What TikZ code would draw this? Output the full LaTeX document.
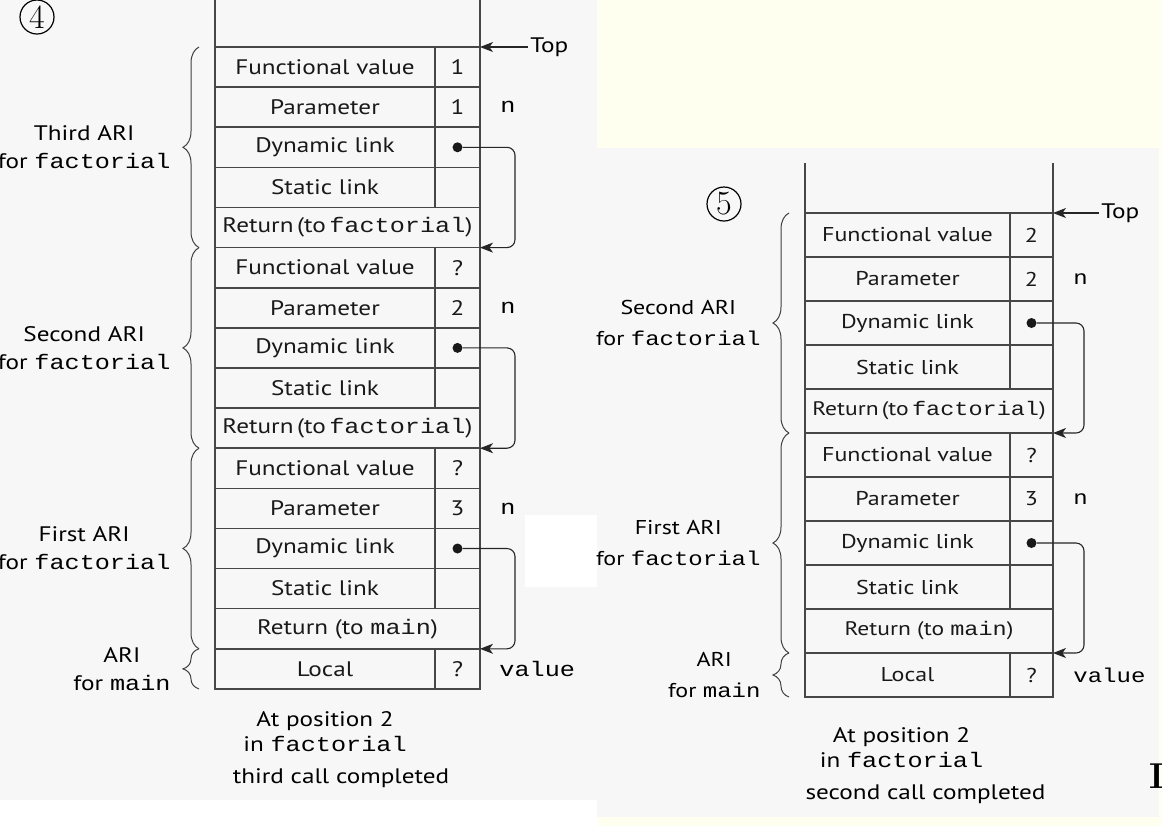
\documentclass[tikz,border=0pt]{standalone}
\usepackage{fontspec}
\setsansfont{PT Sans}[FakeStretch=1.2]
\setmonofont{Liberation Mono}[FakeStretch=1.2]
\usetikzlibrary{positioning, arrows.meta, decorations.pathreplacing, calc}
\definecolor{panelgray}{HTML}{F7F7F7}
\definecolor{panelivory}{HTML}{FFFFF0}
\definecolor{inkgray}{HTML}{474747}

\begin{document}
\begin{tikzpicture}[x=0.5pt, y=-0.5pt,
    cell/.style={draw=inkgray, line width=0.8pt, rectangle, inner sep=0pt, outer sep=0pt, text=black!90, font=\sffamily\fontsize{10.5}{12.6}\selectfont},
    under/.style={at={(#1.south west)}, anchor=north west},
    dotmark/.style={circle, fill=black!90, inner sep=0pt, minimum size=5pt},
    link/.style={-{Stealth[length=6.5pt, width=5pt, inset=1.8pt]}, line width=0.55pt, draw=black!85, rounded corners=4pt},
    wall/.style={draw=inkgray, line width=0.8pt},
    brace/.style={decorate, decoration={brace, amplitude=8pt}, draw=black!75, line width=0.5pt},
    arilabel/.style={left=14pt, align=center, inner sep=0pt, font=\sffamily\fontsize{10.5}{14}\selectfont},
    side/.style={inner sep=1pt, font=\ttfamily\fontsize{10.5}{12}\selectfont},
    toplabel/.style={inner sep=1pt, font=\sffamily\fontsize{10.5}{12}\selectfont},
    caption/.style={align=center, inner sep=0pt, font=\sffamily\fontsize{10.5}{12.5}\selectfont},
    circnum/.style={circle, draw, line width=0.6pt, inner sep=0pt, minimum size=17pt, font=\rmfamily\fontsize{17}{17}\selectfont}
  ]
  % backgrounds of the two screenshots
  \useasboundingbox (0,0) rectangle (1162,826);
  \fill[white] (0,0) rectangle (1162,826);
  \fill[panelgray] (0,0) rectangle (597,800);
  \fill[panelivory] (597,0) rectangle (1162,826);
  \fill[panelgray] (597,148) rectangle (1159,817);
  \fill[white] (525,515) rectangle (597,587);

  % ---- left stack: third call completed
  \begin{scope}[namecell/.style={cell, minimum width=110pt, minimum height=20.06pt},
      valcell/.style={cell, minimum width=22.5pt, minimum height=20.06pt},
      widecell/.style={cell, minimum width=132.5pt, minimum height=20.06pt}]
    \node[circnum] (lstep) at (37,17) {4};
    \node[namecell, anchor=north west] (lfv3) at (215,47) {Functional value};
    \node[valcell, right=0pt of lfv3] (lfv3v) {1};
    \node[namecell, under=lfv3] (lpar3) {Parameter};
    \node[valcell, right=0pt of lpar3] (lpar3v) {1};
    \node[namecell, under=lpar3] (ldyn3) {Dynamic link};
    \node[valcell, right=0pt of ldyn3] (ldyn3v) {};
    \node[namecell, under=ldyn3] (lsta3) {Static link};
    \node[valcell, right=0pt of lsta3] (lsta3v) {};
    \node[widecell, under=lsta3] (lret3) {Return\,(to\,\texttt{factorial})};
    \node[namecell, under=lret3] (lfv2) {Functional value};
    \node[valcell, right=0pt of lfv2] (lfv2v) {?};
    \node[namecell, under=lfv2] (lpar2) {Parameter};
    \node[valcell, right=0pt of lpar2] (lpar2v) {2};
    \node[namecell, under=lpar2] (ldyn2) {Dynamic link};
    \node[valcell, right=0pt of ldyn2] (ldyn2v) {};
    \node[namecell, under=ldyn2] (lsta2) {Static link};
    \node[valcell, right=0pt of lsta2] (lsta2v) {};
    \node[widecell, under=lsta2] (lret2) {Return\,(to\,\texttt{factorial})};
    \node[namecell, under=lret2] (lfv1) {Functional value};
    \node[valcell, right=0pt of lfv1] (lfv1v) {?};
    \node[namecell, under=lfv1] (lpar1) {Parameter};
    \node[valcell, right=0pt of lpar1] (lpar1v) {3};
    \node[namecell, under=lpar1] (ldyn1) {Dynamic link};
    \node[valcell, right=0pt of ldyn1] (ldyn1v) {};
    \node[namecell, under=ldyn1] (lsta1) {Static link};
    \node[valcell, right=0pt of lsta1] (lsta1v) {};
    \node[widecell, under=lsta1] (lret1) {Return (to \texttt{main})};
    \node[namecell, under=lret1] (lloc) {Local};
    \node[valcell, right=0pt of lloc] (llocv) {?};
    \draw[wall] (lfv3.north west) -- ++(0,-47);
    \draw[wall] (lfv3v.north east) -- ++(0,-47);
    \node[toplabel, right=24pt of lfv3v.north east] (ltop) {Top};
    \draw[link] (ltop) -- (lfv3v.north east);
    \node[side, right=9pt of lpar3v] (ln3) {n};
    \node[side, right=9pt of lpar2v] (ln2) {n};
    \node[side, right=9pt of lpar1v] (ln1) {n};
    \node[side, right=8.5pt of llocv] (lvalue) {value};
    \node[dotmark] (ldot3) at (ldyn3v) {};
    \node[dotmark] (ldot2) at (ldyn2v) {};
    \node[dotmark] (ldot1) at (ldyn1v) {};
    \draw[link] (ldot3) -- ([xshift=17.5pt]ldyn3v.east) |- (lret3.south east);
    \draw[link] (ldot2) -- ([xshift=17.5pt]ldyn2v.east) |- (lret2.south east);
    \draw[link] (ldot1) -- ([xshift=17.5pt]ldyn1v.east) |- (lret1.south east);
    \draw[brace] ([xshift=-8pt]lret3.south west) -- node[arilabel] {Third ARI\\for \texttt{factorial}} ([xshift=-8pt]lfv3.north west);
    \draw[brace] ([xshift=-8pt]lret2.south west) -- node[arilabel] {Second ARI\\for \texttt{factorial}} ([xshift=-8pt]lfv2.north west);
    \draw[brace] ([xshift=-8pt]lret1.south west) -- node[arilabel] {First ARI\\for \texttt{factorial}} ([xshift=-8pt]lfv1.north west);
    \draw[brace] ([xshift=-8pt]lloc.south west) -- node[arilabel] {ARI\\for \texttt{main}} ([xshift=-8pt]lloc.north west);
    \node[caption, below=11pt of lloc] (lcap) {At position 2\\in \texttt{factorial}};
    \node[caption, below=8pt of lcap, xshift=8pt] (lcap2) {third call completed};
  \end{scope}

  % ---- right stack: second call completed
  \begin{scope}[namecell/.style={cell, minimum width=102.5pt, minimum height=22pt, font=\sffamily\fontsize{10}{12}\selectfont},
      valcell/.style={cell, minimum width=21.5pt, minimum height=22pt, font=\sffamily\fontsize{10}{12}\selectfont},
      widecell/.style={cell, minimum width=124pt, minimum height=22pt, font=\sffamily\fontsize{9.8}{12}\selectfont},
      arilabel/.style={left=14pt, align=center, inner sep=0pt, font=\sffamily\fontsize{10}{15.5}\selectfont},
      side/.style={inner sep=1pt, font=\ttfamily\fontsize{10}{12}\selectfont}]
    \node[circnum] (rstep) at (724,204) {5};
    \node[namecell, anchor=north west] (rfv2) at (805,213) {Functional value};
    \node[valcell, right=0pt of rfv2] (rfv2v) {2};
    \node[namecell, under=rfv2] (rpar2) {Parameter};
    \node[valcell, right=0pt of rpar2] (rpar2v) {2};
    \node[namecell, under=rpar2] (rdyn2) {Dynamic link};
    \node[valcell, right=0pt of rdyn2] (rdyn2v) {};
    \node[namecell, under=rdyn2] (rsta2) {Static link};
    \node[valcell, right=0pt of rsta2] (rsta2v) {};
    \node[widecell, under=rsta2] (rret2) {Return\,(to\,\texttt{factorial})};
    \node[namecell, under=rret2] (rfv1) {Functional value};
    \node[valcell, right=0pt of rfv1] (rfv1v) {?};
    \node[namecell, under=rfv1] (rpar1) {Parameter};
    \node[valcell, right=0pt of rpar1] (rpar1v) {3};
    \node[namecell, under=rpar1] (rdyn1) {Dynamic link};
    \node[valcell, right=0pt of rdyn1] (rdyn1v) {};
    \node[namecell, under=rdyn1] (rsta1) {Static link};
    \node[valcell, right=0pt of rsta1] (rsta1v) {};
    \node[widecell, under=rsta1] (rret1) {Return (to \texttt{main})};
    \node[namecell, under=rret1] (rloc) {Local};
    \node[valcell, right=0pt of rloc] (rlocv) {?};
    \draw[wall] (rfv2.north west) -- ++(0,-50);
    \draw[wall] (rfv2v.north east) -- ++(0,-50);
    \node[toplabel, right=23pt of rfv2v.north east] (rtop) {Top};
    \draw[link] (rtop) -- (rfv2v.north east);
    \node[side, right=9pt of rpar2v] (rn2) {n};
    \node[side, right=9pt of rpar1v] (rn1) {n};
    \node[side, right=9pt of rlocv] (rvalue) {value};
    \node[dotmark] (rdot2) at (rdyn2v) {};
    \node[dotmark] (rdot1) at (rdyn1v) {};
    \draw[link] (rdot2) -- ([xshift=15.5pt]rdyn2v.east) |- (rret2.south east);
    \draw[link] (rdot1) -- ([xshift=15.5pt]rdyn1v.east) |- (rret1.south east);
    \draw[brace] ([xshift=-8pt]rret2.south west) -- node[arilabel] {Second ARI\\for \texttt{factorial}} ([xshift=-8pt]rfv2.north west);
    \draw[brace] ([xshift=-8pt]rret1.south west) -- node[arilabel] {First ARI\\for \texttt{factorial}} ([xshift=-8pt]rfv1.north west);
    \draw[brace] ([xshift=-8pt]rloc.south west) -- node[arilabel] {ARI\\for \texttt{main}} ([xshift=-8pt]rloc.north west);
    \node[caption, below=15pt of rloc, xshift=-3pt] (rcap) {At position 2\\in \texttt{factorial}};
    \node[caption, below=8pt of rcap, xshift=12pt] (rcap2) {second call completed};
  \end{scope}

  % clipped glyph at the right edge
  \node[anchor=west, inner sep=0pt, font=\rmfamily\bfseries\fontsize{18}{18}\selectfont] (cutmark) at (1149,776) {I};
\end{tikzpicture}
\end{document}
